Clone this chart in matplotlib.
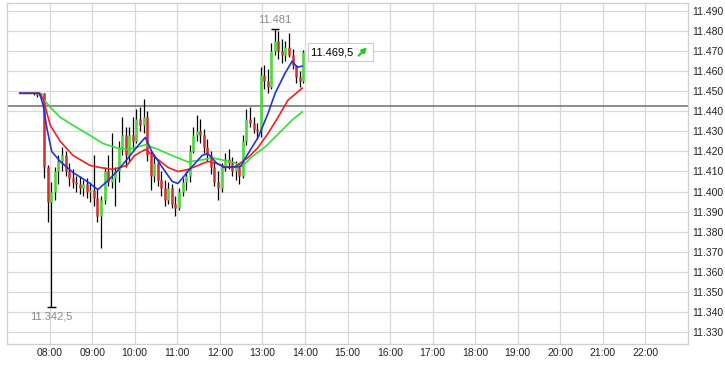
import numpy as np
import matplotlib
matplotlib.use('Agg')
import matplotlib.pyplot as plt
from matplotlib.ticker import FuncFormatter
from matplotlib.transforms import offset_copy

plt.rcParams['font.family'] = ['Liberation Sans', 'DejaVu Sans']

# 5-minute bars, 07:20 .. 13:55
bar_start, bar_step = '07:20', 5
opens = [11449, 11449, 11449, 11449, 11449, 11448,
         11449, 11412, 11395, 11400, 11410, 11415, 11418, 11410, 11407, 11405,
         11404, 11402, 11404, 11400, 11401, 11397, 11388, 11396, 11410, 11405,
         11407, 11410, 11422, 11428, 11418, 11428, 11425, 11436, 11433, 11437,
         11418, 11408, 11414, 11406, 11402, 11396, 11402, 11394, 11392, 11400,
         11405, 11408, 11420, 11428, 11430, 11428, 11422, 11418, 11412, 11405,
         11402, 11412, 11416, 11414, 11410, 11412, 11408, 11425, 11436, 11434,
         11431, 11430, 11458, 11455, 11452, 11470, 11475, 11470, 11468, 11472,
         11468, 11463, 11457, 11455]
highs = [11449, 11449, 11449, 11449, 11449, 11449,
         11449, 11413, 11405, 11412, 11418, 11422, 11420, 11414, 11411, 11408,
         11408, 11406, 11407, 11405, 11418, 11402, 11398, 11412, 11418, 11429,
         11412, 11425, 11437, 11432, 11432, 11437, 11441, 11442, 11446, 11440,
         11420, 11418, 11416, 11410, 11406, 11405, 11404, 11398, 11402, 11407,
         11410, 11423, 11432, 11438, 11436, 11431, 11426, 11420, 11415, 11410,
         11414, 11419, 11421, 11417, 11415, 11414, 11428, 11441, 11442, 11437,
         11434, 11462, 11463, 11461, 11474, 11481, 11480, 11476, 11475, 11479,
         11471, 11463, 11460, 11470.5]
lows = [11449, 11449, 11449, 11448, 11447, 11447,
        11407, 11385, 11342.5, 11396, 11404, 11410, 11408, 11403, 11402, 11400,
        11399, 11398, 11397, 11395, 11393, 11385, 11372, 11394, 11403, 11402,
        11393, 11405, 11418, 11412, 11415, 11421, 11424, 11430, 11429, 11415,
        11401, 11405, 11403, 11398, 11393, 11394, 11392, 11388, 11391, 11398,
        11401, 11405, 11419, 11425, 11424, 11419, 11415, 11409, 11403, 11396,
        11400, 11410, 11411, 11408, 11406, 11404, 11407, 11423, 11432, 11429,
        11426, 11427, 11451, 11449, 11451, 11468, 11466, 11464, 11465, 11467,
        11461, 11454, 11452, 11454]
closes = [11449, 11449, 11449, 11449, 11448, 11449,
          11412, 11395, 11400, 11410, 11415, 11418, 11410, 11407, 11405, 11404,
          11402, 11404, 11400, 11401, 11397, 11388, 11396, 11410, 11405, 11407,
          11410, 11422, 11428, 11418, 11428, 11425, 11436, 11433, 11437, 11418,
          11408, 11414, 11406, 11402, 11396, 11402, 11394, 11392, 11400, 11405,
          11408, 11420, 11428, 11430, 11428, 11422, 11418, 11412, 11405, 11402,
          11412, 11416, 11414, 11410, 11412, 11408, 11425, 11436, 11434, 11431,
          11430, 11458, 11455, 11452, 11470, 11475, 11470, 11468, 11472, 11468,
          11463, 11457, 11455, 11469.5]

# moving averages (minutes after 07:00, value)
blue_t = [18, 46, 51, 56, 63, 75, 93, 113, 128, 141, 155, 169, 185, 195, 204,
          219, 233, 241, 255, 275, 283, 296, 307, 321, 329, 340, 354, 368, 378,
          392, 402, 409, 416]
blue_v = [11449, 11449, 11443, 11432, 11420, 11415, 11409.5, 11405, 11401, 11405,
          11410, 11416, 11423, 11427, 11420, 11412, 11405, 11404, 11410, 11418,
          11419, 11414, 11412, 11412.3, 11412.5, 11419, 11427, 11439, 11449,
          11459, 11465, 11462, 11462.5]
red_t = [18, 46, 51, 61, 75, 93, 117, 131, 149, 169, 180, 195, 209, 227, 241,
         255, 269, 283, 296, 307, 321, 340, 354, 368, 382, 396, 416]
red_v = [11449, 11449, 11446, 11433, 11425, 11418, 11413, 11412, 11411, 11413,
         11418, 11421, 11417, 11412, 11410, 11411, 11413, 11415, 11414, 11412.3,
         11412.3, 11417, 11422, 11429, 11437, 11445.5, 11451.5]
green_t = [18, 44, 61, 75, 93, 117, 135, 155, 169, 185, 195, 213, 237, 255, 275,
           289, 303, 321, 331, 345, 364, 388, 402, 416]
green_v = [11449, 11449, 11442, 11437, 11433, 11428, 11424, 11421.7, 11421, 11422.3,
           11423.3, 11421, 11417.3, 11414.8, 11415.8, 11416.8, 11415.8, 11414.3,
           11412.3, 11417.3, 11422.3, 11430.7, 11435.7, 11439.7]

prev_close = 11442.5
day_high, day_low, last = 11481, 11342.5, 11469.5
y_ticks = list(range(11330, 11491, 10))
x_hours = list(range(8, 23))


def de_fmt(v, dec=0):
    s = f"{v:,.{dec}f}"
    return s.replace(',', 'X').replace('.', ',').replace('X', '.')


h0, m0 = map(int, bar_start.split(':'))
bar_x = h0 + m0 / 60 + np.arange(len(opens)) * bar_step / 60
bar_x = bar_x + bar_step / 120


def to_h(mins):
    return 7 + np.array(mins) / 60


fig = plt.figure(figsize=(7.25, 3.65), dpi=100)
ax = fig.add_axes([7 / 725, 21 / 365, 681 / 725, 341 / 365])

ax.set_xlim(7, 23)
ax.set_ylim(11324, 11494)
ax.set_xticks(x_hours)
ax.set_xticklabels([f"{h:02d}:00" for h in x_hours])
ax.set_yticks(y_ticks)
ax.yaxis.set_major_formatter(FuncFormatter(lambda v, p: de_fmt(v)))
ax.yaxis.tick_right()
ax.tick_params(length=0, labelsize=7.5, colors='#222222', pad=3)
ax.grid(True, color='#d8d8d8', lw=0.9)
ax.set_axisbelow(True)
for s in ax.spines.values():
    s.set_color('#cfcfcf')
    s.set_linewidth(0.9)

ax.axhline(prev_close, color='#6e6e6e', lw=1.1, zorder=2)

o = np.array(opens, float)
c = np.array(closes, float)
ax.vlines(bar_x, lows, highs, color='black', lw=0.9, zorder=3)
up = c >= o
ax.vlines(bar_x[up], o[up], c[up], color='#44dd33', lw=1.8, zorder=4)
ax.vlines(bar_x[~up], o[~up], c[~up], color='#d83030', lw=1.8, zorder=4)

ax.plot(to_h(green_t), green_v, color='#33e033', lw=1.2, zorder=5)
ax.plot(to_h(red_t), red_v, color='#ee2222', lw=1.2, zorder=5)
ax.plot(to_h(blue_t), blue_v, color='#2233dd', lw=1.2, zorder=5)

# high / low markers
i_hi = int(np.argmax(highs))
i_lo = int(np.argmin(lows))
ax.hlines(day_high, bar_x[i_hi] - 0.09, bar_x[i_hi] + 0.09, color='black', lw=1, zorder=6)
ax.annotate(de_fmt(day_high), (bar_x[i_hi], day_high), xytext=(0, 3),
            textcoords='offset points', ha='center', va='bottom', fontsize=8, color='#8a8a8a')
ax.hlines(day_low, bar_x[i_lo] - 0.1, bar_x[i_lo] + 0.1, color='black', lw=1, zorder=6)
ax.annotate(de_fmt(day_low, 1), (bar_x[i_lo], day_low), xytext=(0, -3),
            textcoords='offset points', ha='center', va='top', fontsize=8, color='#8a8a8a')

# last price box with green arrow
ax.annotate(de_fmt(last, 1) + '     ', (bar_x[-1], last), xytext=(6, 0),
            textcoords='offset points', ha='left', va='center', fontsize=8, color='black',
            bbox=dict(boxstyle='square,pad=0.35', fc='white', ec='#cccccc', lw=0.8), zorder=7)
tip = offset_copy(ax.transData, fig=fig, x=46, y=3.5, units='points')
tail = offset_copy(ax.transData, fig=fig, x=40, y=-2.5, units='points')
ax.annotate('', xy=(bar_x[-1], last), xycoords=tip,
            xytext=(bar_x[-1], last), textcoords=tail,
            arrowprops=dict(arrowstyle='-|>', color='#22cc22', lw=1.6,
                            mutation_scale=7, shrinkA=0, shrinkB=0), zorder=8)

fig.savefig('out.png', dpi=100)
